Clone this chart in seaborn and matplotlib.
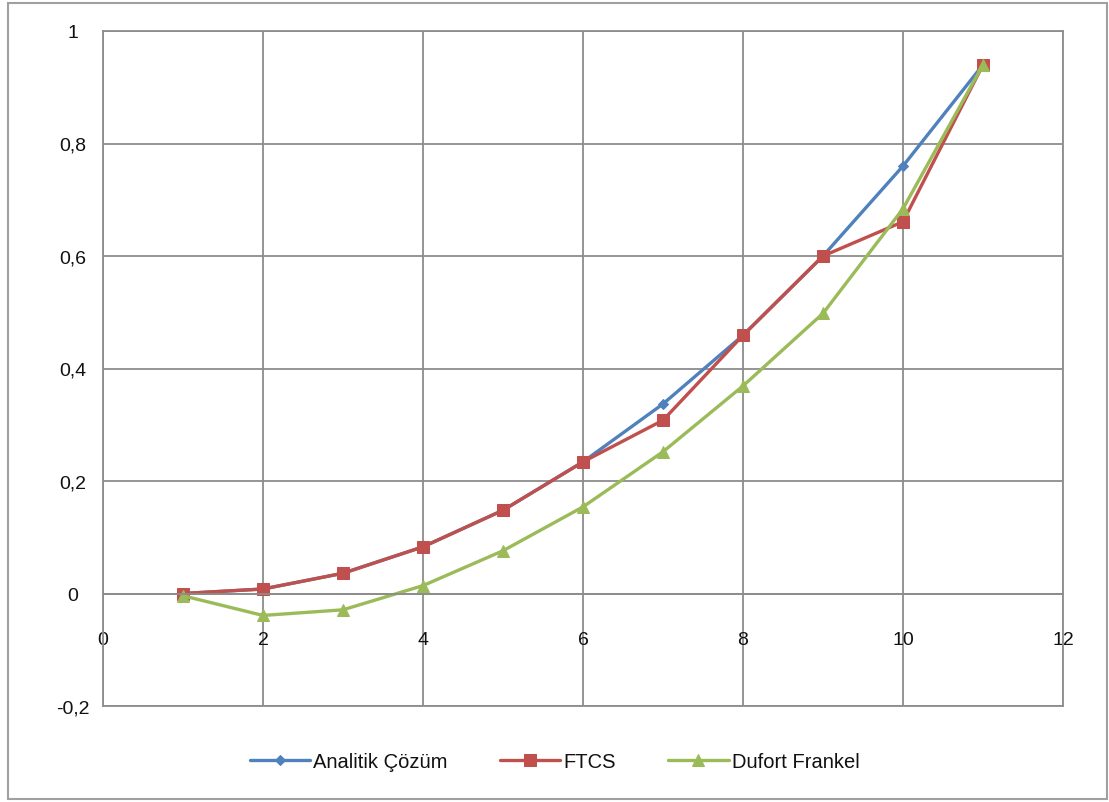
import numpy as np
import pandas as pd
import seaborn as sns
import matplotlib
matplotlib.use("Agg")
import matplotlib.pyplot as plt
from matplotlib.patches import Rectangle
from matplotlib.ticker import FuncFormatter, MultipleLocator

x_vals = [1, 2, 3, 4, 5, 6, 7, 8, 9, 10, 11]
analitik = [0.0, 0.008, 0.036, 0.083, 0.148, 0.234, 0.337, 0.459, 0.600, 0.760, 0.940]
ftcs = [0.0, 0.008, 0.036, 0.083, 0.148, 0.234, 0.308, 0.459, 0.600, 0.661, 0.940]
dufort = [-0.004, -0.039, -0.029, 0.014, 0.076, 0.154, 0.252, 0.369, 0.498, 0.684, 0.940]
series_names = ["Analitik Çözüm", "FTCS", "Dufort Frankel"]
colors = ["#4F81BD", "#C0504D", "#9BBB59"]

sns.set_theme(style="white")
plt.rcParams['font.family'] = ['Liberation Sans', 'DejaVu Sans']

df = pd.DataFrame({
    "x": x_vals * 3,
    "y": analitik + ftcs + dufort,
    "seri": [series_names[0]] * 11 + [series_names[1]] * 11 + [series_names[2]] * 11,
})

W, H = 1109, 803
fig = plt.figure(figsize=(W / 100, H / 100), dpi=100)
ax = fig.add_axes([103 / W, 1 - 707 / H, (1063 - 103) / W, (707 - 32) / H])

markers = {series_names[0]: "D", series_names[1]: "s", series_names[2]: "^"}
sizes_m = {series_names[0]: 5, series_names[1]: 8, series_names[2]: 8.5}
for name, col in zip(series_names, colors):
    sub = df[df["seri"] == name]
    sns.lineplot(data=sub, x="x", y="y", ax=ax, color=col, linewidth=2.4,
                 marker=markers[name], markersize=sizes_m[name],
                 markeredgecolor=col, markerfacecolor=col, label=name,
                 estimator=None, sort=False)

ax.set_xlim(0, 12)
ax.set_ylim(-0.2, 1.0)
ax.xaxis.set_major_locator(MultipleLocator(2))
ax.yaxis.set_major_locator(MultipleLocator(0.2))

def fmt(v, pos):
    if abs(v) < 1e-9:
        return "0"
    s = ("%.1f" % v).rstrip("0").rstrip(".")
    return s.replace(".", ",")

ax.xaxis.set_major_formatter(FuncFormatter(fmt))
ax.yaxis.set_major_formatter(FuncFormatter(fmt))
ax.set_xlabel("")
ax.set_ylabel("")

ax.grid(True, color="#8C8C8C", linewidth=1.3)
ax.set_axisbelow(True)
for s in ["top", "right", "left", "bottom"]:
    ax.spines[s].set_color("#8C8C8C")
    ax.spines[s].set_linewidth(1.3)
    ax.spines[s].set_visible(True)

# x labels below the zero line
ax.spines["bottom"].set_position(("data", 0))
ax.plot([0, 12], [-0.2, -0.2], color="#8C8C8C", linewidth=1.3, clip_on=False, zorder=0.5)
ax.tick_params(axis="x", length=0, pad=27, labelsize=14, labelcolor="#111111")
ax.tick_params(axis="y", length=0, pad=22, labelsize=14, labelcolor="#111111")
for lbl in ax.get_yticklabels():
    lbl.set_horizontalalignment("center")

leg = ax.legend(loc="center", bbox_to_anchor=(0.5, (803 - 763) / H), bbox_transform=fig.transFigure,
                ncol=3, frameon=False, fontsize=14.5, handlelength=3.0, columnspacing=2.6,
                handletextpad=0.15)
for t in leg.get_texts():
    t.set_color("#111111")

fig.patches.append(Rectangle((8 / W, 1 - 800 / H), (1107 - 8) / W, (800 - 4) / H,
                             transform=fig.transFigure, fill=False,
                             edgecolor="#A0A0A0", linewidth=1.5))

fig.savefig("out.png", dpi=100, facecolor="white")
